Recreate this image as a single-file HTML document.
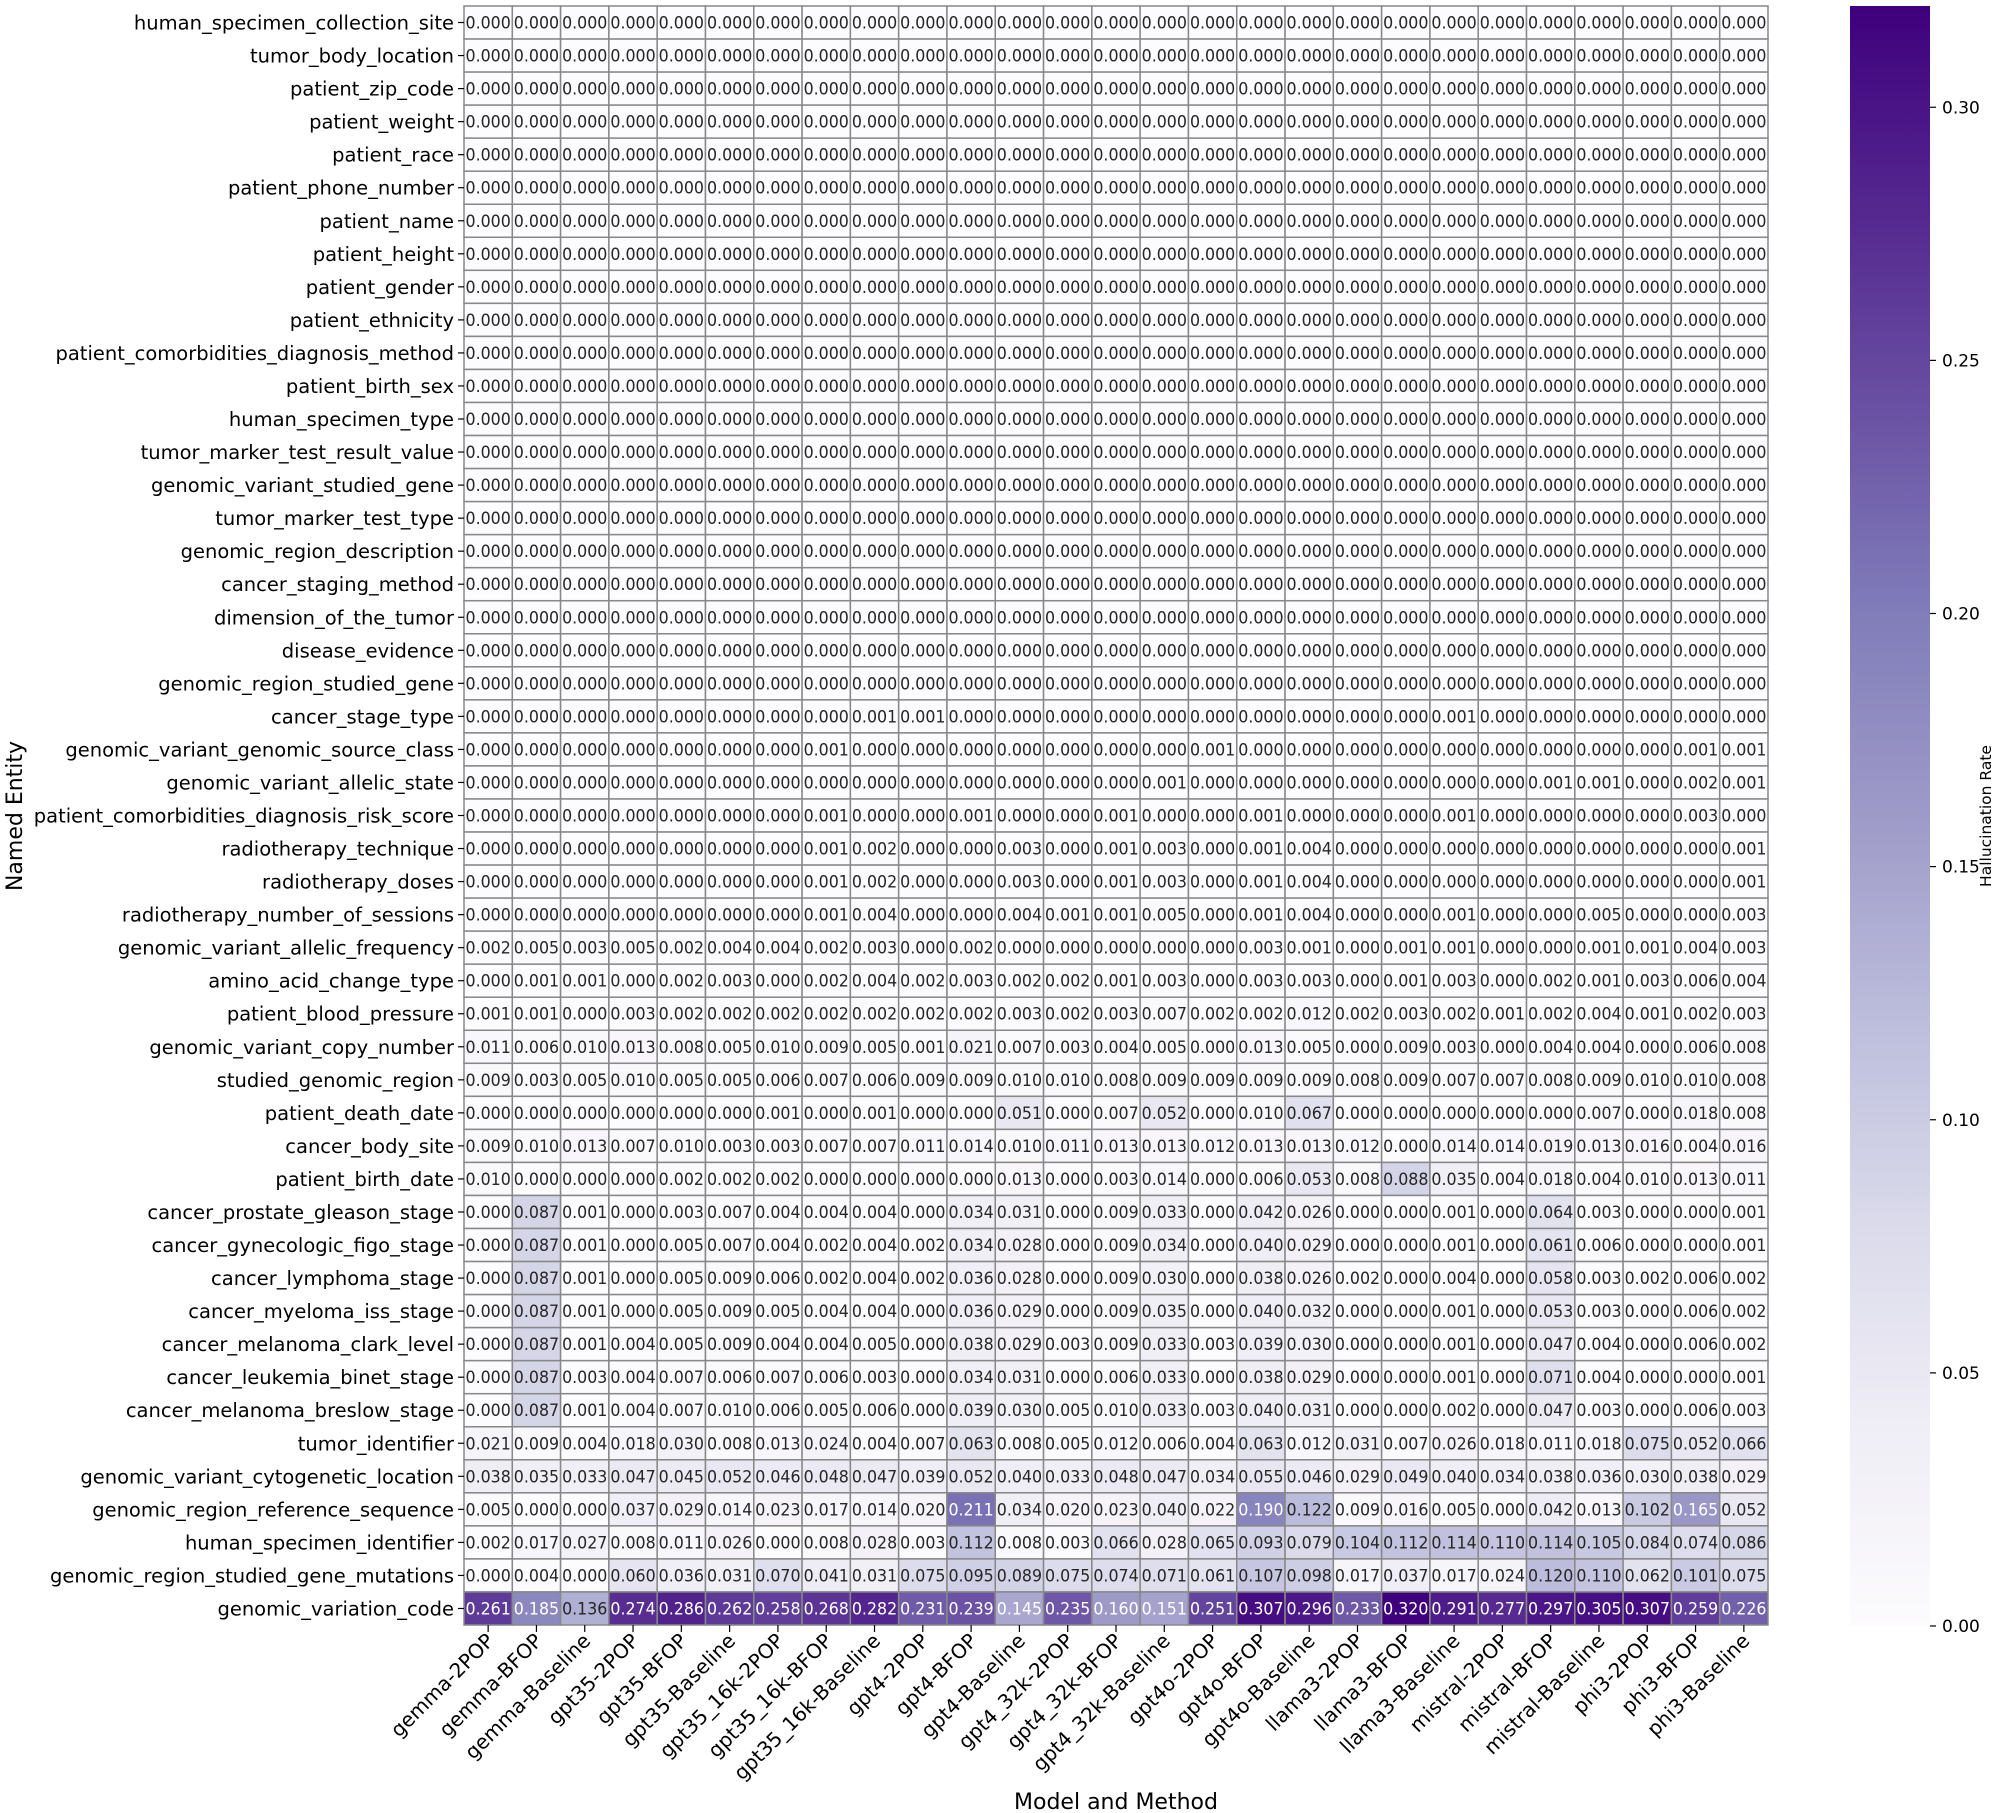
<!DOCTYPE html>
<html><head><meta charset="utf-8">
<style>html,body{margin:0;padding:0;background:#fff;}svg{display:block;}</style>
</head><body>
<svg id="s" xmlns="http://www.w3.org/2000/svg" width="2000" height="1813" viewBox="0 0 2000 1813" font-family="DejaVu Sans, Liberation Sans, sans-serif"></svg>
<script>
const rows=["human_specimen_collection_site","tumor_body_location","patient_zip_code","patient_weight","patient_race","patient_phone_number","patient_name","patient_height","patient_gender","patient_ethnicity","patient_comorbidities_diagnosis_method","patient_birth_sex","human_specimen_type","tumor_marker_test_result_value","genomic_variant_studied_gene","tumor_marker_test_type","genomic_region_description","cancer_staging_method","dimension_of_the_tumor","disease_evidence","genomic_region_studied_gene","cancer_stage_type","genomic_variant_genomic_source_class","genomic_variant_allelic_state","patient_comorbidities_diagnosis_risk_score","radiotherapy_technique","radiotherapy_doses","radiotherapy_number_of_sessions","genomic_variant_allelic_frequency","amino_acid_change_type","patient_blood_pressure","genomic_variant_copy_number","studied_genomic_region","patient_death_date","cancer_body_site","patient_birth_date","cancer_prostate_gleason_stage","cancer_gynecologic_figo_stage","cancer_lymphoma_stage","cancer_myeloma_iss_stage","cancer_melanoma_clark_level","cancer_leukemia_binet_stage","cancer_melanoma_breslow_stage","tumor_identifier","genomic_variant_cytogenetic_location","genomic_region_reference_sequence","human_specimen_identifier","genomic_region_studied_gene_mutations","genomic_variation_code"];
const cols=["gemma-2POP","gemma-BFOP","gemma-Baseline","gpt35-2POP","gpt35-BFOP","gpt35-Baseline","gpt35_16k-2POP","gpt35_16k-BFOP","gpt35_16k-Baseline","gpt4-2POP","gpt4-BFOP","gpt4-Baseline","gpt4_32k-2POP","gpt4_32k-BFOP","gpt4_32k-Baseline","gpt4o-2POP","gpt4o-BFOP","gpt4o-Baseline","llama3-2POP","llama3-BFOP","llama3-Baseline","mistral-2POP","mistral-BFOP","mistral-Baseline","phi3-2POP","phi3-BFOP","phi3-Baseline"];
const D=[];
const Z=()=>Array(27).fill(0);
for(let i=0;i<21;i++)D.push(Z());
const m=a=>a.map(v=>v/1000);
D.push(m([0,0,0,0,0,0,0,0,1,1,0,0,0,0,0,0,0,0,0,0,1,0,0,0,0,0,0]));
D.push(m([0,0,0,0,0,0,0,1,0,0,0,0,0,0,0,1,0,0,0,0,0,0,0,0,0,1,1]));
D.push(m([0,0,0,0,0,0,0,0,0,0,0,0,0,0,1,0,0,0,0,0,0,0,1,1,0,2,1]));
D.push(m([0,0,0,0,0,0,0,1,0,0,1,0,0,1,0,0,1,0,0,0,1,0,0,0,0,3,0]));
D.push(m([0,0,0,0,0,0,0,1,2,0,0,3,0,1,3,0,1,4,0,0,0,0,0,0,0,0,1]));
D.push(m([0,0,0,0,0,0,0,1,2,0,0,3,0,1,3,0,1,4,0,0,0,0,0,0,0,0,1]));
D.push(m([0,0,0,0,0,0,0,1,4,0,0,4,1,1,5,0,1,4,0,0,1,0,0,5,0,0,3]));
D.push(m([2,5,3,5,2,4,4,2,3,0,2,0,0,0,0,0,3,1,0,1,1,0,0,1,1,4,3]));
D.push(m([0,1,1,0,2,3,0,2,4,2,3,2,2,1,3,0,3,3,0,1,3,0,2,1,3,6,4]));
D.push(m([1,1,0,3,2,2,2,2,2,2,2,3,2,3,7,2,2,12,2,3,2,1,2,4,1,2,3]));
D.push(m([11,6,10,13,8,5,10,9,5,1,21,7,3,4,5,0,13,5,0,9,3,0,4,4,0,6,8]));
D.push(m([9,3,5,10,5,5,6,7,6,9,9,10,10,8,9,9,9,9,8,9,7,7,8,9,10,10,8]));
D.push(m([0,0,0,0,0,0,1,0,1,0,0,51,0,7,52,0,10,67,0,0,0,0,0,7,0,18,8]));
D.push(m([9,10,13,7,10,3,3,7,7,11,14,10,11,13,13,12,13,13,12,0,14,14,19,13,16,4,16]));
D.push(m([10,0,0,0,2,2,2,0,0,0,0,13,0,3,14,0,6,53,8,88,35,4,18,4,10,13,11]));
D.push(m([0,87,1,0,3,7,4,4,4,0,34,31,0,9,33,0,42,26,0,0,1,0,64,3,0,0,1]));
D.push(m([0,87,1,0,5,7,4,2,4,2,34,28,0,9,34,0,40,29,0,0,1,0,61,6,0,0,1]));
D.push(m([0,87,1,0,5,9,6,2,4,2,36,28,0,9,30,0,38,26,2,0,4,0,58,3,2,6,2]));
D.push(m([0,87,1,0,5,9,5,4,4,0,36,29,0,9,35,0,40,32,0,0,1,0,53,3,0,6,2]));
D.push(m([0,87,1,4,5,9,4,4,5,0,38,29,3,9,33,3,39,30,0,0,1,0,47,4,0,6,2]));
D.push(m([0,87,3,4,7,6,7,6,3,0,34,31,0,6,33,0,38,29,0,0,1,0,71,4,0,0,1]));
D.push(m([0,87,1,4,7,10,6,5,6,0,39,30,5,10,33,3,40,31,0,0,2,0,47,3,0,6,3]));
D.push(m([21,9,4,18,30,8,13,24,4,7,63,8,5,12,6,4,63,12,31,7,26,18,11,18,75,52,66]));
D.push(m([38,35,33,47,45,52,46,48,47,39,52,40,33,48,47,34,55,46,29,49,40,34,38,36,30,38,29]));
D.push(m([5,0,0,37,29,14,23,17,14,20,211,34,20,23,40,22,190,122,9,16,5,0,42,13,102,165,52]));
D.push(m([2,17,27,8,11,26,0,8,28,3,112,8,3,66,28,65,93,79,104,112,114,110,114,105,84,74,86]));
D.push(m([0,4,0,60,36,31,70,41,31,75,95,89,75,74,71,61,107,98,17,37,17,24,120,110,62,101,75]));
D.push(m([261,185,136,274,286,262,258,268,282,231,239,145,235,160,151,251,307,296,233,320,291,277,297,305,307,259,226]));
const stops=["#fcfbfd","#efedf5","#dadaeb","#bcbddc","#9e9ac8","#807dba","#6a51a3","#54278f","#3f007d"].map(h=>[1,3,5].map(i=>parseInt(h.substr(i,2),16)));
const VMAX=0.320;
function cmap(v){let t=Math.max(0,Math.min(1,v/VMAX))*8;let i=Math.min(7,Math.floor(t));let f=t-i;const a=stops[i],b=stops[i+1];return a.map((x,k)=>Math.round(x+(b[k]-x)*f));}
function lum(c){const l=c.map(x=>{x/=255;return x<=0.03928?x/12.92:Math.pow((x+0.055)/1.055,2.4)});return 0.2126*l[0]+0.7152*l[1]+0.0722*l[2];}
const L=464,R=1768,T=6,B=1625,cw=(R-L)/27,rh=(B-T)/49;
let s="";
for(let r=0;r<49;r++){for(let c=0;c<27;c++){const v=D[r][c];const col=cmap(v);const x=L+c*cw,y=T+r*rh;
s+=`<rect x="${x}" y="${y}" width="${cw}" height="${rh}" fill="rgb(${col})" stroke="#888" stroke-width="1.5"/>`;
s+=`<text x="${x+cw/2}" y="${y+rh/2+6}" font-size="17" text-anchor="middle" textLength="${cw-3}" lengthAdjust="spacingAndGlyphs" fill="${lum(col)<0.408?'#fff':'#262626'}">${v.toFixed(3)}</text>`;}
const yc=T+(r+0.5)*rh;
s+=`<line x1="${L-6}" y1="${yc}" x2="${L}" y2="${yc}" stroke="#000" stroke-width="1.2"/>`;
s+=`<text x="${L-10}" y="${yc+7}" font-size="19.5" text-anchor="end" fill="#000">${rows[r]}</text>`;}
for(let c=0;c<27;c++){const xc=L+(c+0.5)*cw;
s+=`<line x1="${xc}" y1="${B}" x2="${xc}" y2="${B+7}" stroke="#000" stroke-width="1.2"/>`;
s+=`<text transform="translate(${xc+7},${B+17}) rotate(-45)" font-size="20" text-anchor="end" fill="#000">${cols[c]}</text>`;}
s+=`<text x="1116" y="1809" font-size="22" text-anchor="middle" fill="#000">Model and Method</text>`;
s+=`<text transform="translate(22,816) rotate(-90)" font-size="22" text-anchor="middle" fill="#000">Named Entity</text>`;
s+=`<defs><linearGradient id="g" x1="0" y1="1" x2="0" y2="0">${stops.map((c,i)=>`<stop offset="${i/8}" stop-color="rgb(${c})"/>`).join("")}</linearGradient></defs>`;
const CT=6,CB=1626;
s+=`<rect x="1850" y="${CT}" width="80" height="${CB-CT}" fill="url(#g)"/>`;
for(let k=0;k<=6;k++){const v=k*0.05;const y=CB-(v/VMAX)*(CB-CT);
s+=`<line x1="1930" y1="${y}" x2="1936" y2="${y}" stroke="#000" stroke-width="1.2"/>`;
s+=`<text x="1942" y="${y+6}" font-size="17" fill="#000">${v.toFixed(2)}</text>`;}
s+=`<text transform="translate(1991,816) rotate(-90)" font-size="15.5" text-anchor="middle" fill="#000">Hallucination Rate</text>`;
document.getElementById("s").innerHTML=s;
</script>
</body></html>
